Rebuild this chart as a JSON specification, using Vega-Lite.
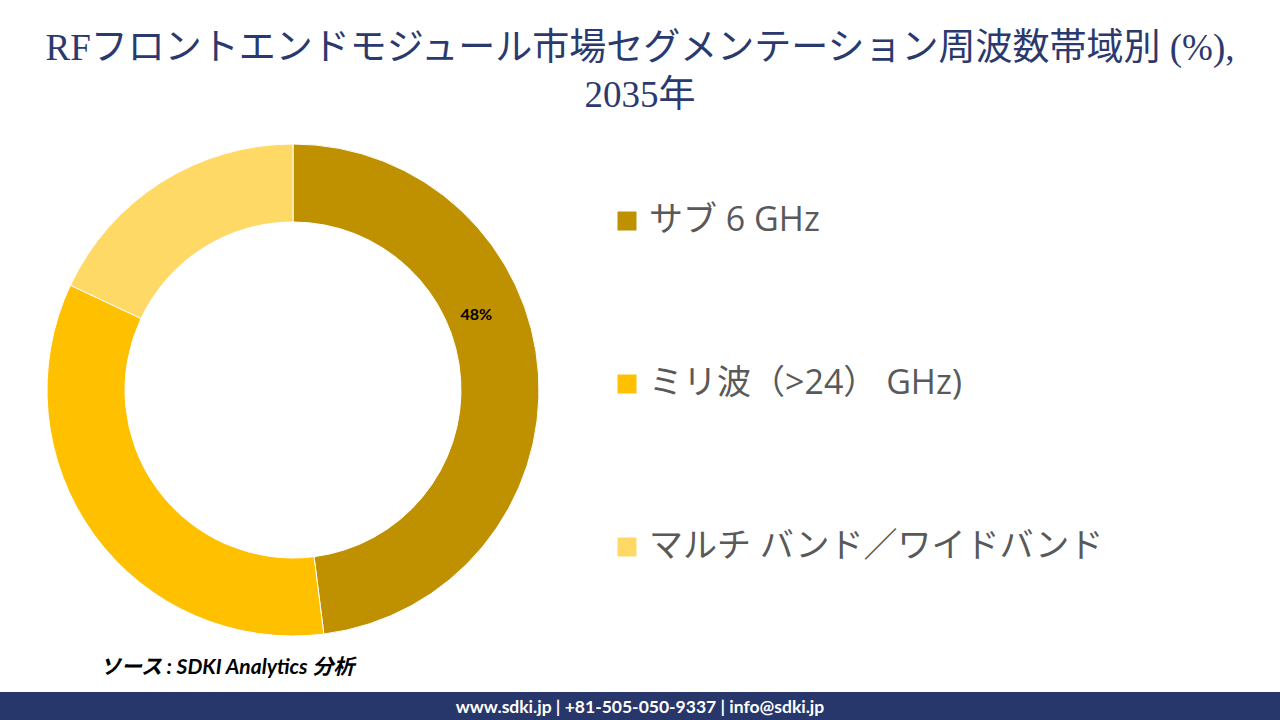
{
  "$schema": "https://vega.github.io/schema/vega-lite/v6.json",
  "padding": {"top": 30, "left": 0, "right": 0, "bottom": 0},
  "spacing": 19,
  "background": "white",
  "title": {
    "text": ["RFフロントエンドモジュール市場セグメンテーション周波数帯域別 (%),", "2035年"],
    "anchor": "middle",
    "frame": "bounds",
    "font": "Liberation Serif, Noto Sans CJK JP",
    "fontSize": 37,
    "fontWeight": "normal",
    "lineHeight": 47,
    "color": "#2B3A6E",
    "offset": 27
  },
  "config": {"view": {"stroke": null}},
  "vconcat": [
    {
      "width": 586,
      "height": 492,
      "data": {
        "values": [
          {"segment": "サブ 6 GHz", "share": 48, "label": "48%", "order": 1},
          {"segment": "ミリ波（>24） GHz)", "share": 34, "label": "34%", "order": 2},
          {"segment": "マルチ バンド／ワイドバンド", "share": 18, "label": "18%", "order": 3}
        ]
      },
      "layer": [
        {
          "mark": {"type": "arc", "outerRadius": 246, "innerRadius": 168, "stroke": "white", "strokeWidth": 1},
          "encoding": {
            "theta": {"field": "share", "type": "quantitative", "stack": true},
            "order": {"field": "order", "type": "quantitative"},
            "color": {
              "field": "segment",
              "type": "nominal",
              "scale": {
                "domain": ["サブ 6 GHz", "ミリ波（>24） GHz)", "マルチ バンド／ワイドバンド"],
                "range": ["#BF9000", "#FFC000", "#FFD966"]
              },
              "legend": {
                "title": null,
                "orient": "none",
                "legendX": 610,
                "legendY": 60,
                "padding": 0,
                "symbolType": "square",
                "symbolSize": 361,
                "symbolStrokeWidth": 0,
                "symbolOpacity": 1,
                "labelFont": "Open Sans, Noto Sans CJK JP",
                "labelFontSize": 34,
                "labelColor": "#595959",
                "labelOffset": 5,
                "labelLimit": 0,
                "rowPadding": 129
              }
            }
          }
        },
        {
          "transform": [{"filter": "datum.order == 1"}],
          "mark": {"type": "text", "radius": 198, "thetaOffset": -0.326, "font": "Lato", "fontWeight": "bold", "fontSize": 16, "color": "black"},
          "encoding": {
            "theta": {"field": "share", "type": "quantitative", "stack": true},
            "order": {"field": "order", "type": "quantitative"},
            "text": {"field": "label", "type": "nominal"},
            "color": {"value": "black"}
          }
        }
      ]
    },
    {
      "width": 1280,
      "height": 32,
      "view": {"fill": "#27366B", "stroke": null},
      "title": {
        "text": "ソース : SDKI Analytics 分析",
        "anchor": "start",
        "frame": "group",
        "dx": 100,
        "offset": 14,
        "font": "Lato, Noto Sans CJK JP",
        "fontSize": 21,
        "fontStyle": "italic",
        "fontWeight": "bold",
        "color": "black"
      },
      "data": {"values": [{"contact": "www.sdki.jp | +81-505-050-9337 | info@sdki.jp"}]},
      "mark": {"type": "text", "font": "Lato", "fontWeight": "bold", "fontSize": 17.5, "color": "white"},
      "encoding": {"text": {"field": "contact", "type": "nominal"}}
    }
  ]
}
